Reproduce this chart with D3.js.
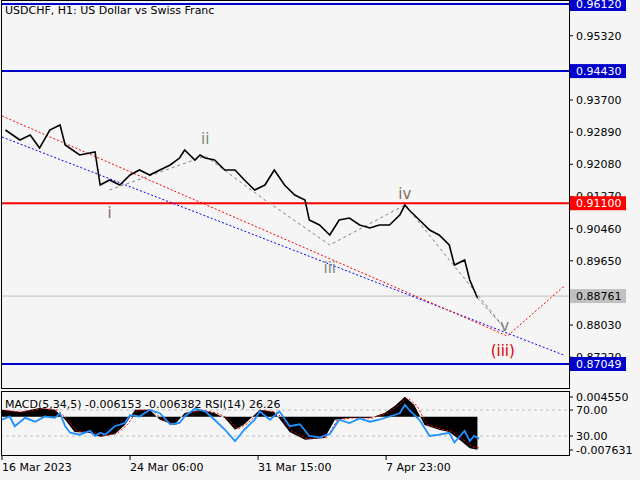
<!DOCTYPE html>
<html><head><meta charset="utf-8">
<script src="https://cdn.jsdelivr.net/npm/d3@7"></script>
<style>body{margin:0;background:#fff}text{font-family:"DejaVu Sans",sans-serif}</style>
</head><body>
<svg id="c" width="640" height="480"></svg>
<script>
// price path (bar index, close)
const bars = [4,21,33,44,56,68,74,91,109,115,126,138,150,161,173,185,197,208,214,226,232,238,249,261,273,284,296,308,319,331,343,355,360,372,384,395,407,419,431,442,454,466,472,477,489,501,512,524,530,542,548,557];
const closes = [0.92945,0.92693,0.92819,0.92491,0.92945,0.93071,0.92567,0.92315,0.92391,0.91559,0.91685,0.91559,0.91811,0.91937,0.91811,0.91937,0.92063,0.92239,0.92441,0.92189,0.92315,0.92239,0.92189,0.91937,0.91937,0.91685,0.91433,0.91559,0.91937,0.91559,0.91307,0.91181,0.90677,0.90551,0.90299,0.90677,0.90727,0.90551,0.90475,0.90551,0.90551,0.90803,0.91055,0.90929,0.90677,0.90425,0.90299,0.90047,0.89543,0.89669,0.89165,0.88711];
const priceTicks = [0.95320,0.93700,0.92890,0.92080,0.91270,0.90460,0.89650,0.88030,0.87220];
const blueLevels = [0.96120,0.94430,0.87049];
const redLevel = 0.91100;
const lastPrice = 0.88761;
const timeLabels = ["16 Mar 2023","24 Mar 06:00","31 Mar 15:00","7 Apr 23:00"];
const timeBars = [0,150,300,450];
// Elliott wave points
const waveBars = [126,238,308,384,472,589];
const wavePrices = [0.91433,0.92290,0.91181,0.90047,0.91055,0.87949];
const waveLabels = ["i","ii","","iii","iv","v"];
const channelRed = [[0,0.93298],[592,0.87754],[658,0.89000]];
const channelBlue = [[0,0.92769],[658,0.87275]];
// indicators
const macdBars = [0,21,44,62,74,85,103,115,132,144,156,173,185,202,214,232,249,261,273,284,302,319,337,355,378,390,407,431,448,460,472,483,495,512,524,536,548,557];
const macdVals = [0.0016,0.0011,0.002,0.0016,-0.0007,-0.0035,-0.0037,-0.0046,-0.004,-0.0019,0.0016,0.0016,-0.0007,-0.0019,0.0009,0.0016,0.0009,-0.0003,-0.003,-0.0017,0.0016,0.0011,-0.0035,-0.0053,-0.0049,-0.0007,-0.0003,-0.0003,0.0009,0.0025,0.0046,0.0027,-0.0019,-0.003,-0.0035,-0.0053,-0.0072,-0.0076];
const rsiBars = [0,9,15,27,39,50,62,68,74,80,91,103,109,115,121,132,144,150,161,173,185,197,208,214,226,238,249,261,273,284,296,302,314,325,337,349,360,372,384,395,407,419,431,442,454,466,472,477,489,501,512,524,530,542,548,553,559];
const rsiVals = [55,60,45,58,52,60,58,65,45,35,32,38,30,35,32,45,50,62,60,70,65,48,50,60,72,68,55,40,22,40,55,68,55,68,45,48,30,28,33,55,50,57,52,55,60,65,78,70,55,30,32,35,20,38,22,30,26];

const svg = d3.select("#c");
svg.append("rect").attr("width",640).attr("height",480).attr("fill","#f5f5f5");

const x = d3.scaleLinear().domain([0,560]).range([2,480]);
const y = d3.scaleLinear().domain([0.87049,0.96120]).range([364,4]);
const yM = d3.scaleLinear().domain([-0.007631,0.004550]).range([450,397]);
const yR = d3.scaleLinear().domain([30,70]).range([436,410]);

const main = svg.append("g");
main.append("clipPath").attr("id","mc").append("rect").attr("x",1).attr("y",1).attr("width",568).attr("height",387);
const mg = main.append("g").attr("clip-path","url(#mc)");

// price axis
const ax = svg.append("g");
priceTicks.forEach(p => {
  ax.append("line").attr("x1",569).attr("x2",573).attr("y1",y(p)).attr("y2",y(p)).attr("stroke","#000");
  ax.append("text").attr("x",576).attr("y",y(p)+4).attr("font-size",11).text(p.toFixed(5));
});

// levels
blueLevels.forEach(p => mg.append("line").attr("x1",0).attr("x2",570).attr("y1",y(p)).attr("y2",y(p)).attr("stroke","#0000cc").attr("stroke-width",2));
mg.append("line").attr("x1",0).attr("x2",570).attr("y1",y(redLevel)).attr("y2",y(redLevel)).attr("stroke","#ff0000").attr("stroke-width",2);
mg.append("line").attr("x1",0).attr("x2",570).attr("y1",y(lastPrice)).attr("y2",y(lastPrice)).attr("stroke","#c0c0c0");

// channels
const ln = d3.line().x(d=>x(d[0])).y(d=>y(d[1]));
mg.append("path").attr("d",ln(channelBlue)).attr("fill","none").attr("stroke","#0000ff").attr("stroke-dasharray","2,2");
mg.append("path").attr("d",ln(channelRed)).attr("fill","none").attr("stroke","#ff0000").attr("stroke-dasharray","2,2");

// wave
const wpts = waveBars.map((b,i)=>[b,wavePrices[i]]);
mg.append("path").attr("d",ln(wpts)).attr("fill","none").attr("stroke","#808080").attr("stroke-dasharray","3,3");
mg.append("path").attr("d",ln([[bars[bars.length-1],closes[closes.length-1]],wpts[5]])).attr("fill","none").attr("stroke","#808080").attr("stroke-dasharray","3,3");
const labOff = [28,-12,0,28,-6,3];
const labCol = ["#8a6a5a","#7a8a7a","#888","#7a8a7a","#8a6a5a","#808080"];
waveLabels.forEach((t,i)=>{ if(!t) return;
  mg.append("text").attr("x",x(waveBars[i])).attr("y",y(wavePrices[i])+labOff[i]).attr("text-anchor","middle")
    .attr("font-size",15).attr("fill",labCol[i]).text(t);
});
mg.append("text").attr("x",x(waveBars[5])-2).attr("y",y(wavePrices[5])+28).attr("text-anchor","middle").attr("font-size",15).attr("fill","#dd0000").text("(iii)");

// price line
mg.append("path").attr("d",d3.line().x((d,i)=>x(bars[i])).y(d=>y(d))(closes)).attr("fill","none").attr("stroke","#000").attr("stroke-width",1.6);

// right-axis boxes
function box(p,fill,col){
  ax.append("rect").attr("x",570).attr("y",y(p)-7).attr("width",56).attr("height",14).attr("fill",fill);
  ax.append("text").attr("x",576).attr("y",y(p)+4).attr("font-size",11).attr("fill",col).text(p.toFixed(5));
}
blueLevels.forEach(p=>box(p,"#0000cc","#fff"));
box(redLevel,"#ff0000","#fff");
box(lastPrice,"#c0c0c0","#000");

svg.append("text").attr("x",5).attr("y",14).attr("font-size",11).text("USDCHF, H1:  US Dollar vs Swiss Franc");

// indicator pane
const ig = svg.append("g");
ig.append("clipPath").attr("id","ic").append("rect").attr("x",1).attr("y",392).attr("width",568).attr("height",63);
const ic = ig.append("g").attr("clip-path","url(#ic)");
[30,70].forEach(v=>ic.append("line").attr("x1",0).attr("x2",570).attr("y1",yR(v)).attr("y2",yR(v)).attr("stroke","#c0c0c0").attr("stroke-dasharray","3,3"));
const mdata = macdBars.map((b,i)=>[b,macdVals[i]]);
ic.append("path").attr("d",d3.area().x(d=>x(d[0])).y0(yM(0)).y1(d=>yM(d[1]))(mdata)).attr("fill","#000");
ic.append("path").attr("d",d3.line().x(d=>x(d[0]+3)).y(d=>yM(d[1]*0.95))(mdata)).attr("fill","none").attr("stroke","#ff0000").attr("stroke-dasharray","2,2");
ic.append("path").attr("d",d3.line().x((d,i)=>x(rsiBars[i])).y(d=>yR(d))(rsiVals)).attr("fill","none").attr("stroke","#1e90ff").attr("stroke-width",1.8);
ig.append("text").attr("x",5).attr("y",408).attr("font-size",11).text("MACD(5,34,5) -0.006153 -0.006382 RSI(14) 26.26");
[[0.004550,"0.004550"],[-0.007631,"-0.007631"]].forEach(d=>{
  ig.append("line").attr("x1",569).attr("x2",573).attr("y1",yM(d[0])).attr("y2",yM(d[0])).attr("stroke","#000");
  ig.append("text").attr("x",576).attr("y",yM(d[0])+4).attr("font-size",11).text(d[1]);
});
[70,30].forEach(v=>{
  ig.append("line").attr("x1",569).attr("x2",573).attr("y1",yR(v)).attr("y2",yR(v)).attr("stroke","#000");
  ig.append("text").attr("x",576).attr("y",yR(v)+4).attr("font-size",11).text(v.toFixed(2));
});

// frames
svg.append("rect").attr("x",1.5).attr("y",0.5).attr("width",568).attr("height",388).attr("fill","none").attr("stroke","#000");
svg.append("rect").attr("x",1.5).attr("y",391.5).attr("width",568).attr("height",64).attr("fill","none").attr("stroke","#000");

// time axis
timeBars.forEach((b,i)=>{
  svg.append("line").attr("x1",x(b)).attr("x2",x(b)).attr("y1",456).attr("y2",460).attr("stroke","#000");
  svg.append("text").attr("x",x(b)).attr("y",471).attr("font-size",11).text(timeLabels[i]);
});
</script>
</body></html>
